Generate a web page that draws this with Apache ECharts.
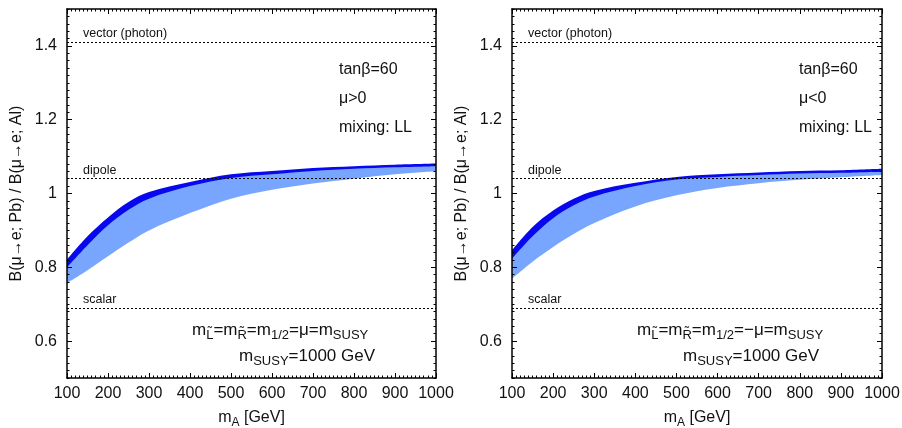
<!DOCTYPE html>
<html>
<head>
<meta charset="utf-8">
<script src="https://cdn.jsdelivr.net/npm/echarts@6/dist/echarts.min.js"></script>
<style>html,body{margin:0;padding:0;background:#fff}#c{width:902px;height:428px}</style>
</head>
<body>
<div id="c"></div>
<script>
// ---- data ----
const massA = [100, 150, 200, 250, 300, 400, 500, 600, 700, 800, 900, 1000];
// left panel (mu > 0)
const darkTopL  = [0.821, 0.884, 0.935, 0.977, 1.004, 1.031, 1.052, 1.061, 1.069, 1.074, 1.078, 1.081];
const darkBotL  = [0.800, 0.860, 0.914, 0.956, 0.986, 1.020, 1.042, 1.052, 1.061, 1.067, 1.071, 1.074];
const lightBotL = [0.757, 0.792, 0.830, 0.867, 0.900, 0.947, 0.986, 1.010, 1.027, 1.040, 1.052, 1.060];
// right panel (mu < 0)
const darkTopR  = [0.846, 0.909, 0.954, 0.986, 1.007, 1.029, 1.045, 1.052, 1.057, 1.061, 1.063, 1.067];
const darkBotR  = [0.823, 0.884, 0.933, 0.968, 0.992, 1.020, 1.038, 1.045, 1.050, 1.054, 1.056, 1.059];
const lightBotR = [0.769, 0.815, 0.855, 0.890, 0.920, 0.965, 0.995, 1.015, 1.028, 1.037, 1.044, 1.050];
// reference levels
const refNames  = ['vector (photon)', 'dipole', 'scalar'];
const refLevels = [1.409, 1.040, 0.686];
// axis ticks
const xTicks = [100, 200, 300, 400, 500, 600, 700, 800, 900, 1000];
const yTicks = [0.6, 0.8, 1, 1.2, 1.4];

const FONT = '"Liberation Sans", Arial, Helvetica, sans-serif';
const DARK = '#0808ee';
const LIGHT = '#78a6ff';

const grids = [
  {left: 67, top: 9, width: 369, height: 369, outerBoundsMode: 'none', containLabel: false},
  {left: 512, top: 9, width: 370, height: 369, outerBoundsMode: 'none', containLabel: false}
];

const xAxes = [], yAxes = [];
function addAxes(gi) {
  const base = {gridIndex: gi, type: 'value', min: 100, max: 1000, splitLine: {show: false}, z: 10};
  xAxes.push(Object.assign({}, base, {
    position: 'bottom', interval: 100,
    axisLine: {show: true, lineStyle: {color: '#000', width: 1.5}},
    axisTick: {show: true, inside: true, length: 5, lineStyle: {color: '#000', width: 1}},
    axisLabel: {show: true, fontSize: 16, color: '#111', fontFamily: FONT, margin: 8,
      showMaxLabel: true, showMinLabel: true, formatter: v => String(v)},
    name: '{n|m}{s|A}{n| [GeV]}', nameLocation: 'middle', nameGap: 29,
    nameTextStyle: {fontFamily: FONT, color: '#111', rich: {
      n: {fontSize: 16, lineHeight: 22, verticalAlign: 'middle', fontFamily: FONT, color: '#111'},
      s: {fontSize: 12, lineHeight: 13, verticalAlign: 'bottom', fontFamily: FONT, color: '#111'}
    }}
  }));
  const mainX = xAxes.length - 1;
  xAxes.push(Object.assign({}, base, {
    position: 'bottom', interval: 10,
    axisLine: {show: false}, axisLabel: {show: false},
    axisTick: {show: true, inside: true, length: 2.5, lineStyle: {color: '#000', width: 1}}
  }));
  xAxes.push(Object.assign({}, base, {
    position: 'top', interval: 100,
    axisLine: {show: true, lineStyle: {color: '#000', width: 1.5}},
    axisTick: {show: true, inside: true, length: 5, lineStyle: {color: '#000', width: 1}},
    axisLabel: {show: false}
  }));
  xAxes.push(Object.assign({}, base, {
    position: 'top', interval: 10,
    axisLine: {show: false}, axisLabel: {show: false},
    axisTick: {show: true, inside: true, length: 2.5, lineStyle: {color: '#000', width: 1}}
  }));

  const ybase = {gridIndex: gi, type: 'value', min: 0.5, max: 1.5, splitLine: {show: false}, z: 10};
  yAxes.push(Object.assign({}, ybase, {
    position: 'left',
    axisLine: {show: true, lineStyle: {color: '#000', width: 1.5}},
    axisTick: {show: true, inside: true, length: 5, customValues: yTicks, lineStyle: {color: '#000', width: 1}},
    axisLabel: {show: true, customValues: yTicks, fontSize: 16, color: '#111', fontFamily: FONT, margin: 10},
    name: 'B(μ→e; Pb) / B(μ→e; Al)', nameLocation: 'middle', nameGap: 42, nameRotate: 90,
    nameTextStyle: {fontSize: 16, color: '#111', fontFamily: FONT}
  }));
  const mainY = yAxes.length - 1;
  yAxes.push(Object.assign({}, ybase, {
    position: 'left', interval: 0.02,
    axisLine: {show: false}, axisLabel: {show: false},
    axisTick: {show: true, inside: true, length: 2.5, lineStyle: {color: '#000', width: 1}}
  }));
  yAxes.push(Object.assign({}, ybase, {
    position: 'right',
    axisLine: {show: true, lineStyle: {color: '#000', width: 1.5}},
    axisTick: {show: true, inside: true, length: 5, customValues: yTicks, lineStyle: {color: '#000', width: 1}},
    axisLabel: {show: false}
  }));
  yAxes.push(Object.assign({}, ybase, {
    position: 'right', interval: 0.02,
    axisLine: {show: false}, axisLabel: {show: false},
    axisTick: {show: true, inside: true, length: 2.5, lineStyle: {color: '#000', width: 1}}
  }));
  return {x: mainX, y: mainY};
}

const series = [];
function addBand(idx, top, bot, low, tag) {
  const common = {type: 'line', xAxisIndex: idx.x, yAxisIndex: idx.y, smooth: 0.35,
    showSymbol: false, symbol: 'none', lineStyle: {width: 0}, silent: true};
  series.push(Object.assign({}, common, {
    name: 'dark' + tag, z: 2, data: massA.map((m, i) => [m, top[i]]),
    areaStyle: {color: DARK, opacity: 1, origin: 'start'}
  }));
  series.push(Object.assign({}, common, {
    name: 'light' + tag, z: 3, data: massA.map((m, i) => [m, bot[i]]),
    areaStyle: {color: LIGHT, opacity: 1, origin: 'start'}
  }));
  series.push(Object.assign({}, common, {
    name: 'low' + tag, z: 4, data: massA.map((m, i) => [m, low[i]]),
    areaStyle: {color: '#ffffff', opacity: 1, origin: 'start'}
  }));
  series.push({
    type: 'line', xAxisIndex: idx.x, yAxisIndex: idx.y, data: [], z: 6, silent: true,
    markLine: {
      symbol: 'none', silent: true, animation: false,
      lineStyle: {color: '#000', width: 1, type: [2, 2]},
      label: {show: true, position: 'insideStartTop', formatter: '{b}', fontSize: 12.5, color: '#111',
        fontFamily: FONT, distance: 2, padding: [0, 0, 0, 14]},
      data: refLevels.map((v, i) => ({yAxis: v, name: refNames[i]}))
    }
  });
}

const idxL = addAxes(0);
const idxR = addAxes(1);
addBand(idxL, darkTopL, darkBotL, lightBotL, 'L');
addBand(idxR, darkTopR, darkBotR, lightBotR, 'R');

const richMain = {
  n: {fontSize: 17, lineHeight: 22, verticalAlign: 'middle', fontFamily: FONT, fill: '#111'},
  s: {fontSize: 13, lineHeight: 13, verticalAlign: 'bottom', fontFamily: FONT, fill: '#111'}
};
function txt(x, y, text, rich) {
  return {type: 'text', left: x, top: y, silent: true, z: 20,
    style: {text: text, fontSize: 16, fontFamily: FONT, fill: '#111', rich: rich || undefined}};
}
const graphics = [
  txt(339, 62, 'tanβ=60'), txt(339, 91, 'μ>0'), txt(339, 120, 'mixing: LL'),
  txt(799, 62, 'tanβ=60'), txt(799, 91, 'μ<0'), txt(799, 120, 'mixing: LL'),
  txt(192, 322, '{n|m}{s|L\u0303}{n|=m}{s|R\u0303}{n|=m}{s|1/2}{n|=μ=m}{s|SUSY}', richMain),
  txt(239, 348, '{n|m}{s|SUSY}{n|=1000 GeV}', richMain),
  txt(637, 322, '{n|m}{s|L\u0303}{n|=m}{s|R\u0303}{n|=m}{s|1/2}{n|=−μ=m}{s|SUSY}', richMain),
  txt(683, 348, '{n|m}{s|SUSY}{n|=1000 GeV}', richMain)
];

const chart = echarts.init(document.getElementById('c'), null, {renderer: 'canvas'});
chart.setOption({
  animation: false,
  backgroundColor: '#fff',
  textStyle: {fontFamily: FONT},
  grid: grids,
  xAxis: xAxes,
  yAxis: yAxes,
  series: series,
  graphic: graphics
});
</script>
</body>
</html>
